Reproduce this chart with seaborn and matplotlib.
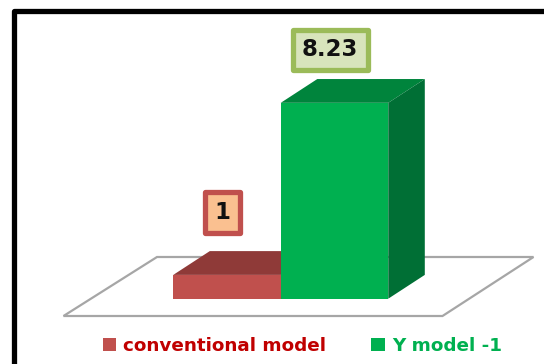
import matplotlib
matplotlib.use("Agg")
import matplotlib.pyplot as plt
import pandas as pd
import seaborn as sns
from matplotlib.lines import Line2D
from matplotlib.patches import FancyBboxPatch, Polygon, Rectangle

# Values
models = ["conventional model", "Y model -1"]
gains = [1, 8.23]
value_labels = ["1", "8.23"]

# Colours for each bar: front, top, side, label border, label fill, legend text
front_colors = ["#c0504d", "#00b050"]
top_colors = ["#8f3a38", "#00843c"]
side_colors = ["#8a3634", "#006f35"]
label_edges = ["#c0504d", "#9bbb59"]
label_fills = ["#fac090", "#d8e4bc"]
legend_text_colors = ["#c00000", "#00b050"]

W, H = 544, 364
sns.set_theme(style="white")
plt.rcParams["font.family"] = ["DejaVu Sans"]

fig = plt.figure(figsize=(W / 100, H / 100), dpi=100, facecolor="white")
ax = fig.add_axes([0, 0, 1, 1])

df = pd.DataFrame({"model": models, "gain": gains})
sns.barplot(data=df, x="model", y="gain", hue="model", palette=front_colors,
            hue_order=models, order=models, width=1.0, dodge=False,
            legend=False, saturation=1, linewidth=0, ax=ax)

# Axis limits set the pixel scale: 107.5 px per category, 23.8 px per unit
ax.set_xlim(-227 / 107.5, (W - 227) / 107.5)
ax.set_ylim((298.7 - H) / 23.8, 298.7 / 23.8)
ax.axis("off")

# Oblique depth of the 3D projection, in data units
depth_x, depth_y = 0.34, 1.0


def px(x, y):
    """Pixel position, top-left origin, to data coordinates."""
    return ax.transData.inverted().transform((x, H - y))


# Floor plane
floor = [px(63.5, 316), px(442.5, 316), px(533.5, 257), px(157, 257)]
ax.add_patch(Polygon(floor, closed=True, facecolor="white", edgecolor="#a6a6a6",
                     linewidth=1.6, zorder=1))

# Extruded faces for each bar; later bars sit in front of earlier ones
for i, bar in enumerate(ax.patches[:2]):
    x0, x1 = bar.get_x(), bar.get_x() + bar.get_width()
    h = bar.get_height()
    z = 2 + i * 2
    ax.add_patch(Polygon([(x0, h), (x1, h), (x1 + depth_x, h + depth_y), (x0 + depth_x, h + depth_y)],
                         closed=True, facecolor=top_colors[i], edgecolor="none", zorder=z))
    ax.add_patch(Polygon([(x1, 0), (x1 + depth_x, depth_y), (x1 + depth_x, h + depth_y), (x1, h)],
                         closed=True, facecolor=side_colors[i], edgecolor="none", zorder=z))
    bar.set_zorder(z + 1)

# Boxed value labels
label_centers = [(222, 212), (330, 49.5)]
label_sizes = [(35, 41), (75, 40)]
for i, (cx, cy) in enumerate(label_centers):
    w, h = label_sizes[i]
    box = FancyBboxPatch((cx - w / 2, H - cy - h / 2), w, h, boxstyle="square,pad=0",
                         facecolor=label_fills[i], edgecolor=label_edges[i],
                         linewidth=3.8, transform=None, zorder=8, joinstyle="round")
    ax.add_patch(box)
    ax.text(*px(cx, cy + 0.5), value_labels[i], ha="center", va="center",
            fontsize=16.5, fontweight="bold", color="#111111", zorder=9)

# Legend
handles = [Rectangle((0, 0), 1, 1, facecolor=c, edgecolor="none") for c in front_colors]
leg = ax.legend(handles, models, loc="center left",
                bbox_to_anchor=(102.5 / W, 1 - 346 / H), ncol=2, frameon=False,
                prop={"weight": "bold", "size": 13.2},
                labelcolor=legend_text_colors, handlelength=0.75, handleheight=0.75,
                handletextpad=0.38, columnspacing=2.45, borderpad=0, borderaxespad=0)

# Black frame running off the right and bottom edges
frame = Line2D([14 / W, 14 / W, 1.0], [0, 1 - 10.5 / H, 1 - 10.5 / H], transform=fig.transFigure,
               color="black", linewidth=3.8, solid_joinstyle="round", solid_capstyle="butt")
fig.add_artist(frame)

fig.savefig("out.png", dpi=100, facecolor="white")
